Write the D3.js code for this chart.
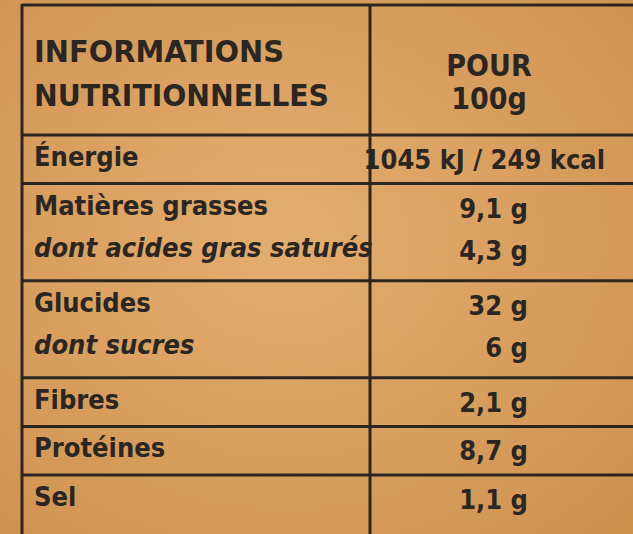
<!DOCTYPE html>
<html><head><meta charset="utf-8">
<script src="https://cdn.jsdelivr.net/npm/d3@7"></script>
<style>body{margin:0;background:#d8a062}svg{display:block}</style>
</head><body><svg id="c" width="633" height="534"></svg>
<script>
const headerLeft = ["INFORMATIONS","NUTRITIONNELLES"];
const headerRight = ["POUR","100g"];
const labels = ["Énergie","Matières grasses","dont acides gras saturés","Glucides","dont sucres","Fibres","Protéines","Sel"];
const values = ["1045 kJ / 249 kcal","9,1 g","4,3 g","32 g","6 g","2,1 g","8,7 g","1,1 g"];
const italic = [false,false,true,false,true,false,false,false];
const separatorsBefore = [0,1,3,5,6,7]; // rule lines above these row indices

const svg = d3.select("#c");
const defs = svg.append("defs");
const g = defs.append("radialGradient").attr("id","bg").attr("cx","45%").attr("cy","45%").attr("r","75%");
g.append("stop").attr("offset","0%").attr("stop-color","#e3ae70");
g.append("stop").attr("offset","100%").attr("stop-color","#cf9150");
svg.append("rect").attr("width",633).attr("height",534).attr("fill","url(#bg)");

const y = d3.scaleLinear().domain([0,7]).range([166,506]);
const ink = "#2b2622";
const font = "'DejaVu Sans Condensed','Roboto',sans-serif";

svg.append("line").attr("x1",22).attr("x2",22).attr("y1",4).attr("y2",534).attr("stroke",ink).attr("stroke-width",3);
svg.append("line").attr("x1",22).attr("x2",633).attr("y1",5).attr("y2",5).attr("stroke",ink).attr("stroke-width",3);
svg.append("line").attr("x1",370).attr("x2",370).attr("y1",5).attr("y2",534).attr("stroke",ink).attr("stroke-width",3);
svg.selectAll("line.sep").data(separatorsBefore).join("line").attr("class","sep")
  .attr("x1",22).attr("x2",633)
  .attr("y1",d=>y(d)-31).attr("y2",d=>y(d)-31)
  .attr("stroke",ink).attr("stroke-width",3);

svg.selectAll("text.hl").data(headerLeft).join("text").attr("class","hl")
  .attr("x",34).attr("y",(d,i)=>62+i*44).text(d=>d)
  .attr("font-family",font).attr("font-weight",700).attr("font-size",31).attr("fill",ink)
  .attr("textLength",(d,i)=>i?295:250).attr("lengthAdjust","spacingAndGlyphs");
svg.selectAll("text.hr").data(headerRight).join("text").attr("class","hr")
  .attr("x",489).attr("y",(d,i)=>76+i*33).attr("text-anchor","middle").text(d=>d)
  .attr("font-family",font).attr("font-weight",700).attr("font-size",30).attr("fill",ink);

svg.selectAll("text.lab").data(labels).join("text").attr("class","lab")
  .attr("x",34).attr("y",(d,i)=>y(i)-(italic[i]?6:0)).text(d=>d)
  .attr("font-family",font).attr("font-weight",(d,i)=>italic[i]?600:700)
  .attr("font-style",(d,i)=>italic[i]?"italic":"normal")
  .attr("font-size",27).attr("fill",ink);
svg.selectAll("text.val").data(values).join("text").attr("class","val")
  .attr("x",(d,i)=>i?528:605).attr("y",(d,i)=>y(i)+3-(italic[i]?6:0)).attr("text-anchor","end").text(d=>d)
  .attr("font-family",font).attr("font-weight",700).attr("font-size",27).attr("fill",ink);
</script></body></html>
